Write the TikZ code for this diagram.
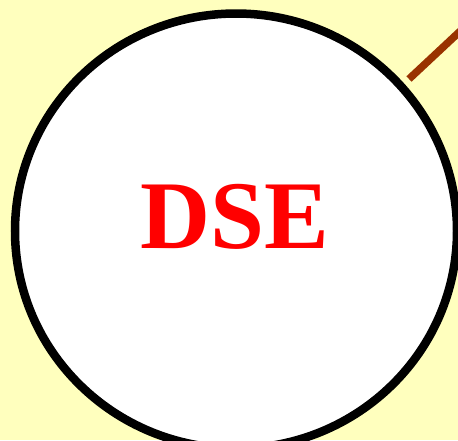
\documentclass[tikz,border=0pt]{standalone}
\usepackage{fontspec}
\setmainfont{Liberation Serif}[BoldFont={Liberation Serif Bold}]
\usetikzlibrary{shapes.geometric}
\definecolor{paper}{HTML}{FFFFBE}
\definecolor{rust}{HTML}{993300}
\definecolor{signal}{HTML}{FF0000}

\begin{document}
\begin{tikzpicture}[
    x=1pt, y=-1pt,
    bubble/.style={ellipse, draw=black, line width=8.5pt, fill=white,
        minimum width=442pt, minimum height=435pt, inner sep=0pt},
    title/.style={text=signal, font=\bfseries\fontsize{97}{97}\selectfont,
        inner sep=0pt, anchor=base},
    stem/.style={rust, line width=7.5pt},
]

% Page and background
\useasboundingbox (0,0) rectangle (458,440);
\clip (0,0) rectangle (458,440);
\fill[paper] (0,0) rectangle (458,440);

% Big circle
\node[bubble] (ring) at (236,231) {};

% Label
\node[title] (dse) at (235,248) {DSE};

% Line leaving the circle
\coordinate (stemstart) at (409,79);
\coordinate (stemend) at (470,22);
\draw[stem] (stemstart) -- (stemend);

\end{tikzpicture}
\end{document}
